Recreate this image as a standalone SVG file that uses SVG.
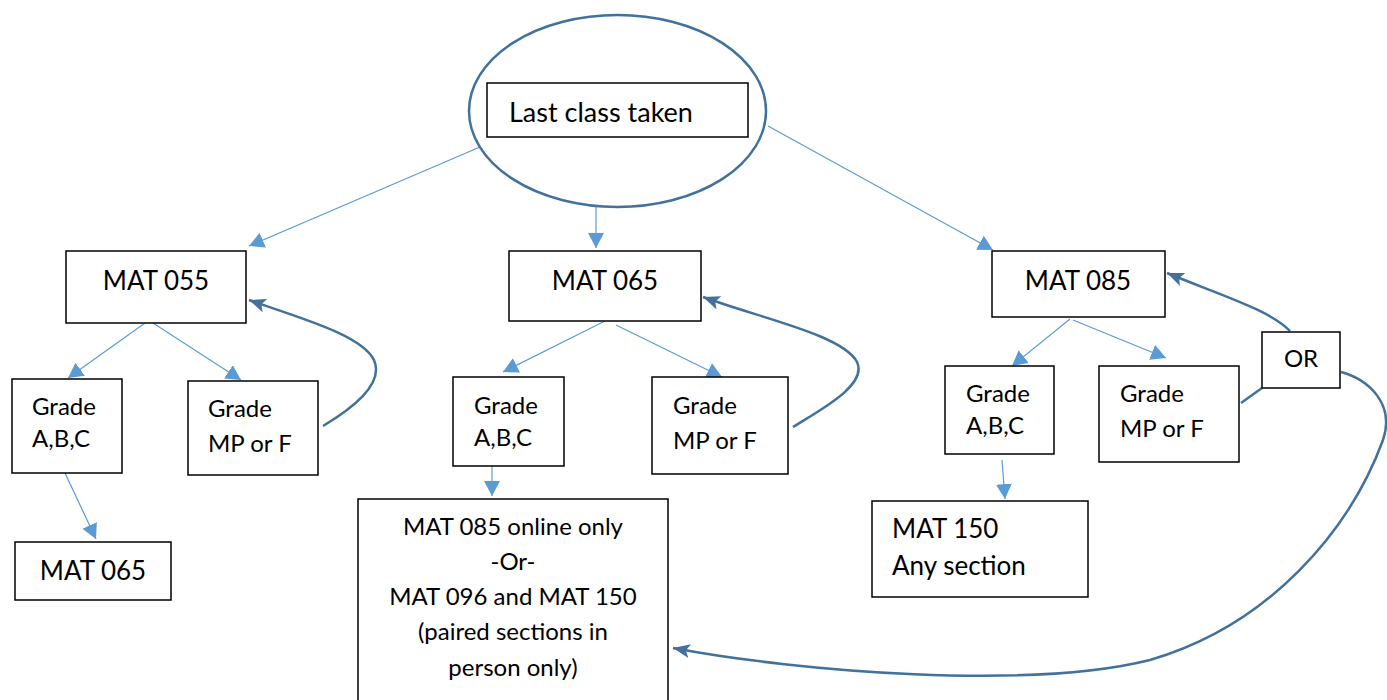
<svg xmlns="http://www.w3.org/2000/svg" width="1387" height="700" viewBox="0 0 1387 700">
<style>
.box{fill:#fff;stroke:#000;stroke-width:1.5}
.t{font-family:Lato,"Liberation Sans",sans-serif;fill:#000}
.big{font-size:26px}
.mid{font-size:24px}
.thin{fill:none;stroke:#5B9BD5;stroke-width:1.2}
.thick{fill:none;stroke:#41719C;stroke-width:2.5}
</style>
<defs>
<marker id="ah" markerUnits="userSpaceOnUse" markerWidth="16" markerHeight="16" viewBox="0 0 16 16" refX="15" refY="8" orient="auto">
<path d="M0,0 L15,8 L0,16 Z" fill="#5B9BD5"/>
</marker>
<marker id="ahd" markerUnits="userSpaceOnUse" markerWidth="18" markerHeight="14" viewBox="0 0 18 14" refX="17" refY="7" orient="auto">
<path d="M0,0 L17,7 L0,14 L4,7 Z" fill="#41719C"/>
</marker>
</defs>
<g id="connectors">
<line class="thin" x1="480" y1="147" x2="249" y2="246" marker-end="url(#ah)"/>
<line class="thin" x1="596" y1="207" x2="596" y2="248" marker-end="url(#ah)"/>
<line class="thin" x1="768" y1="126" x2="993" y2="250" marker-end="url(#ah)"/>
<line class="thin" x1="145" y1="323" x2="68" y2="378" marker-end="url(#ah)"/>
<line class="thin" x1="153" y1="323" x2="241" y2="380" marker-end="url(#ah)"/>
<line class="thin" x1="65" y1="473" x2="96" y2="539" marker-end="url(#ah)"/>
<line class="thin" x1="605" y1="321" x2="503" y2="372" marker-end="url(#ah)"/>
<line class="thin" x1="616" y1="325" x2="722" y2="377" marker-end="url(#ah)"/>
<line class="thin" x1="492" y1="466" x2="492" y2="496" marker-end="url(#ah)"/>
<line class="thin" x1="1070" y1="319" x2="1012" y2="366" marker-end="url(#ah)"/>
<line class="thin" x1="1073" y1="320" x2="1166" y2="358" marker-end="url(#ah)"/>
<line class="thin" x1="1002" y1="460" x2="1005" y2="499" marker-end="url(#ah)"/>
<path class="thick" d="M323,426 C350,410 385,385 374,360 C362,335 300,318 249,300" marker-end="url(#ahd)"/>
<path class="thick" d="M793,427 C820,410 868,385 857,362 C843,335 760,318 703,297" marker-end="url(#ahd)"/>
<path class="thick" d="M1290,331 C1270,310 1220,295 1167,273" marker-end="url(#ahd)"/>
<path class="thick" d="M1241,403 L1262,388"/>
<path class="thick" d="M1341,372 C1370,380 1395,405 1383,440 C1350,530 1270,625 1150,660 C1030,690 800,672 673,648" marker-end="url(#ahd)"/>
</g>
<g id="root">
<ellipse cx="617.5" cy="111" rx="148.5" ry="96" fill="#fff" stroke="#41719C" stroke-width="2.5"/>
<rect class="box" x="487" y="83" width="261" height="54"/>
<text class="t" font-size="27" x="509" y="122">Last class taken</text>
</g>
<g id="mat055">
<rect class="box" x="66" y="251" width="180" height="72"/>
<text class="t big" x="156" y="290" text-anchor="middle">MAT 055</text>
</g>
<g id="grade-abc-1">
<rect class="box" x="12" y="379" width="110" height="94"/>
<text class="t mid" x="32" y="415">Grade</text>
<text class="t mid" x="32" y="447">A,B,C</text>
</g>
<g id="grade-mpf-1">
<rect class="box" x="188" y="381" width="130" height="94"/>
<text class="t mid" x="208" y="417">Grade</text>
<text class="t mid" x="208" y="452">MP or F</text>
</g>
<g id="mat065-a">
<rect class="box" x="15" y="542" width="156" height="58"/>
<text class="t big" x="93" y="580" text-anchor="middle">MAT 065</text>
</g>
<g id="mat065">
<rect class="box" x="509" y="251" width="192" height="70"/>
<text class="t big" x="605" y="290" text-anchor="middle">MAT 065</text>
</g>
<g id="grade-abc-2">
<rect class="box" x="453" y="377" width="111" height="89"/>
<text class="t mid" x="474" y="414">Grade</text>
<text class="t mid" x="474" y="446">A,B,C</text>
</g>
<g id="grade-mpf-2">
<rect class="box" x="652" y="377" width="136" height="97"/>
<text class="t mid" x="673" y="414">Grade</text>
<text class="t mid" x="673" y="449">MP or F</text>
</g>
<g id="options">
<rect class="box" x="358" y="499" width="310" height="215"/>
<text class="t mid" x="513" y="535" text-anchor="middle">MAT 085 online only</text>
<text class="t mid" x="513" y="570" text-anchor="middle">-Or-</text>
<text class="t mid" x="513" y="605" text-anchor="middle">MAT 096 and MAT 150</text>
<text class="t mid" x="513" y="640" text-anchor="middle">(paired sections in</text>
<text class="t mid" x="513" y="676" text-anchor="middle">person only)</text>
</g>
<g id="mat085">
<rect class="box" x="992" y="251" width="173" height="66"/>
<text class="t big" x="1078" y="290" text-anchor="middle">MAT 085</text>
</g>
<g id="grade-abc-3">
<rect class="box" x="945" y="366" width="109" height="88"/>
<text class="t mid" x="966" y="402">Grade</text>
<text class="t mid" x="966" y="434">A,B,C</text>
</g>
<g id="grade-mpf-3">
<rect class="box" x="1099" y="366" width="140" height="96"/>
<text class="t mid" x="1120" y="402">Grade</text>
<text class="t mid" x="1120" y="437">MP or F</text>
</g>
<g id="mat150">
<rect class="box" x="872" y="501" width="216" height="96"/>
<text class="t big" x="892" y="538">MAT 150</text>
<text class="t big" x="892" y="575">Any section</text>
</g>
<g id="or">
<rect class="box" x="1262" y="332" width="78" height="56"/>
<text class="t mid" x="1301" y="367" text-anchor="middle">OR</text>
</g>
</svg>
